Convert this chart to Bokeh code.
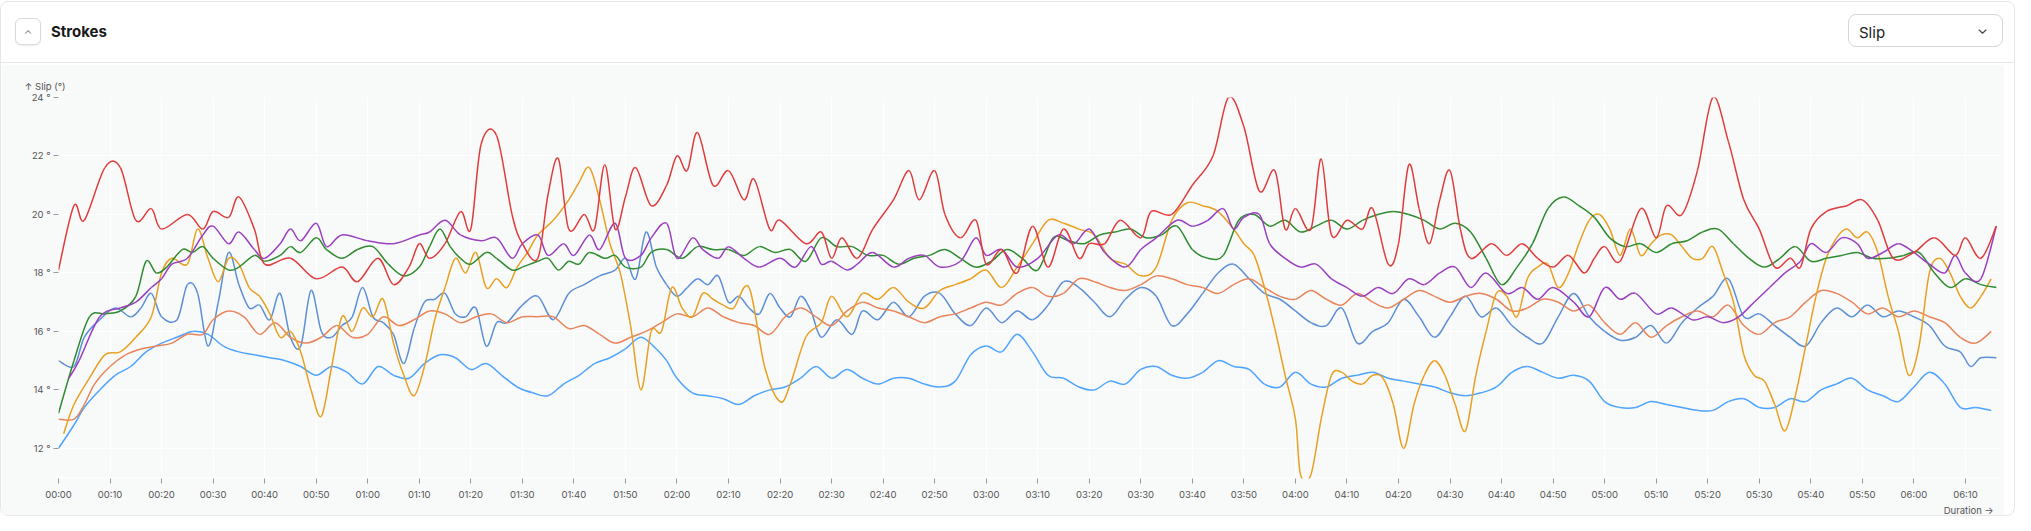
from bokeh.plotting import figure
from bokeh.models import Div, FixedTicker, CustomJSTickFormatter, Title, Range1d
from bokeh.layouts import column
from bokeh.embed import file_html
from bokeh.resources import INLINE

# (seconds, slip in degrees)
red = [(0,18.1),(3,20.3),(5,19.8),(9,21.6),(12,21.6),(15,19.8),(18,20.2),(20,19.5),(25,20),(28,19.5),(30,20.1),(33,19.9),(35,20.6),(38,19.5),(40,18.3),(45,18.5),(50,17.8),(55,18.2),(58,17.7),(62,18.5),(65,17.6),(68,18.2),(70,19),(72,18.5),(75,19),(78,20.1),(80,19.5),(82,22.4),(85,22.7),(88,20),(90,19),(93,18.5),(95,20.7),(97,21.9),(99,19.5),(102,20),(104,19.5),(106,21.7),(108,19.5),(110,20.6),(112,21.6),(115,20.3),(118,21),(120,22),(122,21.5),(124,22.8),(127,21),(130,21.5),(133,20.5),(135,21.2),(138,19.5),(140,19.8),(145,19),(148,19.4),(150,18.5),(152,19.2),(155,18.5),(158,19.5),(162,20.5),(165,21.5),(167,20.5),(170,21.5),(172,20),(175,19.2),(178,19.8),(180,18.3),(183,18.8),(186,18),(189,19.6),(192,18.2),(195,19.5),(198,18.5),(200,19),(203,19),(206,19.8),(210,19.2),(212,20.1),(216,20),(220,21),(224,22),(227,24),(230,23),(233,20.8),(236,21.5),(238,19.5),(240,20.2),(243,19.5),(245,21.9),(247,19.3),(250,19.8),(253,19.5),(255,20.2),(258,18.3),(260,19),(262,21.7),(264,20.2),(266,19),(268,20.5),(270,21.5),(272,19.5),(274,18.5),(278,19),(281,18.6),(284,19),(287,18.5),(290,18.2),(293,18.6),(296,18),(298,18.5),(300,18.9),(303,18.4),(307,20.2),(310,19.2),(312,20.3),(315,20),(318,21.5),(321,24),(324,22.5),(327,20.5),(330,19.5),(333,18.2),(336,18.5),(338,18.2),(340,19.5),(343,20.1),(347,20.3),(350,20.5),(353,19.8),(356,18.5),(360,18.7),(364,19.2),(368,18.6),(370,19.2),(373,18.5),(376,19.6)]
purple = [(2,14.4),(4,15),(8,16.5),(12,16.8),(15,17),(18,17.5),(20,17.8),(22,18.3),(25,18.5),(28,19.3),(30,19.6),(33,19),(35,19.4),(38,18.8),(40,18.5),(43,19),(45,19.5),(47,19.1),(50,19.7),(52,18.9),(55,19.3),(60,19.1),(65,19),(70,19.3),(72,19.4),(75,19.8),(78,19.3),(82,19.1),(85,19.2),(88,18.5),(90,19),(93,19.3),(95,18.6),(98,19),(100,18.6),(103,19.3),(105,18.8),(108,19.7),(110,18.5),(113,18.6),(115,19.2),(118,19.7),(120,18.5),(123,19.2),(125,18.8),(128,18.5),(130,18.9),(133,18.5),(136,18.2),(140,18.5),(143,18.2),(146,18.9),(148,18.3),(150,18.4),(153,18.1),(155,18.3),(158,18.7),(162,18.2),(165,18.5),(168,18.6),(171,18.2),(175,18.4),(178,19.2),(180,18.6),(183,18.8),(186,18.2),(190,18.5),(194,19.3),(197,19),(200,19.5),(203,18.7),(207,18.2),(210,18.8),(213,19.2),(217,19.8),(220,19.6),(223,19.8),(226,20.2),(228,19.5),(230,19.9),(233,20),(235,19),(238,18.5),(241,18.2),(244,18.3),(247,17.8),(250,17.5),(253,17.2),(256,17.5),(259,17.3),(262,17.8),(265,17.6),(268,18),(271,18.2),(274,17.5),(277,18),(281,17.3),(284,17.5),(287,17.1),(290,17.5),(294,17),(297,16.5),(300,17.5),(303,17.1),(306,17.3),(310,16.6),(313,16.8),(317,16.4),(320,16.5),(323,16.3),(326,16.5),(329,17),(332,17.5),(335,18),(338,18.4),(340,19),(343,18.7),(346,19.2),(349,19),(351,18.5),(354,18.7),(357,19),(360,18.7),(363,18.3),(366,18),(368,18.6),(370,18),(373,17.8),(376,19.6)]
green = [(0,13.2),(3,15),(6,16.5),(9,16.6),(12,16.7),(15,17.2),(17,18.4),(19,18),(21,18.2),(24,18.8),(26,18.7),(28,18.9),(30,18.5),(33,18.1),(35,18.2),(38,18.6),(40,18.4),(43,18.6),(45,18.9),(47,18.7),(50,19.2),(52,18.8),(55,18.5),(58,18.8),(61,18.9),(64,18.3),(67,17.9),(70,18.2),(72,18.9),(74,19.5),(76,18.9),(78,18.5),(80,18.3),(83,18.7),(85,18.5),(88,18.1),(90,18.2),(93,18.4),(95,18.5),(97,18.1),(99,18.4),(101,18.3),(103,18.7),(106,18.5),(108,18.6),(110,18.2),(113,18.2),(115,18.7),(118,18.8),(121,18.5),(124,18.9),(127,18.8),(130,18.8),(133,18.6),(136,18.9),(139,18.7),(142,18.8),(145,18.4),(148,19.2),(151,18.9),(154,18.9),(157,18.6),(160,18.6),(163,18.3),(166,18.5),(169,18.6),(172,18.8),(175,18.5),(178,18.2),(181,18.4),(184,18.8),(187,18.5),(190,18.1),(193,19.2),(196,19.1),(199,19),(202,19.3),(205,19.4),(208,19.5),(211,19.2),(214,19.3),(217,19.6),(220,18.8),(223,18.5),(226,18.6),(229,19.8),(232,20),(235,19.6),(238,19.8),(241,19.4),(244,19.6),(247,19.8),(250,19.5),(253,19.8),(256,20),(259,20.1),(262,20),(265,19.8),(268,19.5),(271,19.7),(274,19.4),(277,18.5),(280,17.6),(283,18.2),(286,19),(289,20.2),(292,20.6),(295,20.3),(298,19.9),(301,19.2),(304,18.9),(307,19),(310,18.7),(313,19),(316,19.1),(319,19.4),(322,19.5),(325,19),(328,18.5),(331,18.2),(334,18.5),(337,18.9),(340,18.4),(343,18.5),(346,18.6),(349,18.7),(352,18.5),(355,18.5),(358,18.6),(361,18.7),(364,18),(367,17.5),(370,17.8),(373,17.6),(376,17.5)]
gold = [(1,12.5),(3,13.5),(6,14.4),(9,15.2),(12,15.3),(15,15.8),(18,16.5),(20,18),(22,18.5),(25,18.3),(27,19.5),(29,18.5),(31,17.7),(33,18.5),(35,18.3),(37,17.5),(39,17.2),(41,16.6),(43,15.8),(45,16),(47,15.3),(49,14),(51,13.1),(53,14.8),(55,16.5),(57,16),(59,16.8),(61,16.5),(63,17.1),(65,15.6),(67,14.5),(69,13.8),(71,14.8),(73,16.4),(75,17.5),(77,18.5),(79,18),(81,18.7),(83,17.5),(85,17.8),(87,17.5),(89,18.2),(91,18.7),(93,19.3),(96,19.8),(99,20.5),(101,21.1),(103,21.6),(105,20.5),(107,19),(109,18),(111,16.2),(113,14),(115,16),(117,16),(119,17.5),(121,16.8),(123,16.5),(125,17.3),(127,17.1),(129,16.9),(131,16.8),(134,17.5),(137,14.8),(140,13.6),(142,14.2),(145,15.8),(148,16.3),(150,17.2),(153,16.5),(156,17.3),(159,17.1),(162,17.5),(165,17),(168,16.8),(171,17.4),(174,17.6),(177,17.8),(180,18.1),(183,17.5),(186,18.2),(189,19),(192,19.8),(195,19.7),(198,19.5),(201,19.3),(204,18.5),(207,18.3),(210,17.9),(213,18.2),(216,19.8),(219,20.4),(222,20.3),(225,20.1),(228,19.5),(230,19),(232,18.6),(234,17.5),(236,16.1),(238,14.5),(240,13),(241,11.1),(243,11.1),(245,13),(247,14.5),(249,14.6),(251,14.3),(253,14.2),(255,14.5),(257,14.4),(259,13.5),(261,12),(263,13.5),(265,14.5),(267,15),(269,14.5),(271,13.5),(273,12.6),(275,14.5),(277,16),(279,17.3),(281,17.2),(283,16.5),(285,17.8),(287,18.2),(289,18.3),(291,17.5),(293,18),(295,19),(297,19.8),(299,20),(301,19.5),(303,18.6),(305,19.5),(307,18.6),(309,19),(311,19.3),(313,19.3),(315,18.9),(317,18.5),(319,18.5),(321,18.9),(323,18),(325,17),(327,15.2),(329,14.5),(331,14.3),(333,13.5),(335,12.6),(337,13.8),(339,15.5),(341,17.2),(343,18.5),(345,19.2),(347,19.5),(349,19.2),(351,19.4),(353,18.7),(355,17.2),(357,16),(359,14.5),(361,15.5),(363,18),(365,18.5),(367,18),(369,17.2),(371,16.8),(373,17.2),(375,17.8)]
coral = [(0,13),(3,13),(5,13.5),(7,14.2),(10,14.8),(13,15.2),(16,15.4),(19,15.5),(22,15.6),(25,15.9),(28,15.9),(30,16.4),(33,16.7),(36,16.5),(39,15.9),(42,16.3),(45,15.8),(48,15.6),(51,15.8),(54,16.2),(57,15.8),(60,15.9),(63,16.5),(66,16.2),(69,16.4),(72,16.7),(75,16.6),(78,16.3),(81,16.5),(84,16.6),(87,16.3),(90,16.5),(93,16.5),(96,16.5),(99,16.1),(102,16.2),(105,15.9),(108,15.6),(111,15.8),(114,16),(117,16.3),(120,16.6),(123,16.5),(126,16.8),(129,16.5),(132,16.3),(135,16.2),(138,15.9),(141,16.5),(144,16.8),(147,16.5),(150,16.2),(153,16.7),(156,17),(159,16.8),(162,16.7),(165,16.5),(168,16.3),(171,16.5),(174,16.6),(177,16.8),(180,17),(183,16.9),(186,17.3),(189,17.5),(192,17.2),(195,17.3),(198,17.8),(201,17.7),(204,17.5),(207,17.4),(210,17.6),(213,17.9),(216,17.8),(219,17.6),(222,17.5),(225,17.3),(228,17.6),(231,17.8),(234,17.5),(237,17.2),(240,17.1),(243,17.4),(246,17.1),(249,16.9),(252,17.3),(255,17),(258,16.8),(261,17.1),(264,17.4),(267,17.2),(270,17),(273,17.2),(276,17.3),(279,17.1),(282,16.7),(285,16.8),(288,17.1),(291,17),(294,16.7),(297,16.9),(300,16.3),(303,15.9),(306,16.3),(309,15.8),(312,16.2),(315,16.5),(318,16.7),(321,16.5),(324,16.9),(327,16.2),(330,15.9),(333,16.3),(336,16.5),(339,17),(342,17.4),(345,17.3),(348,17),(351,16.6),(354,16.8),(357,16.5),(360,16.7),(363,16.5),(366,16.3),(369,15.8),(372,15.6),(375,16)]
steel = [(0,15),(3,14.8),(5,15.8),(8,16.4),(11,16.8),(14,16.5),(16,16.8),(18,17.3),(20,16.5),(23,16.4),(25,17.6),(27,17.3),(29,15.5),(31,17),(33,18.7),(35,17.6),(37,16.8),(39,16.9),(41,16.4),(43,17.3),(45,15.8),(47,15.5),(49,17.4),(51,16),(53,15.8),(55,16.2),(57,16.5),(59,17.5),(61,16.5),(63,16.3),(65,15.9),(67,14.9),(69,16.1),(71,17),(73,17.1),(75,17.3),(77,16.6),(79,16.5),(81,16.8),(83,15.5),(85,16.3),(87,16.3),(90,16.9),(93,17.2),(96,16.4),(99,17.3),(102,17.6),(105,17.9),(108,18.1),(110,18.5),(112,17.8),(114,19.4),(116,18.2),(118,17.6),(120,17.2),(122,17.5),(124,17.8),(126,17.6),(128,17.9),(130,17),(132,17.2),(134,16.8),(136,16.6),(138,17.3),(140,16.8),(142,16.5),(144,17.2),(146,16.7),(148,15.8),(151,16.4),(154,15.9),(156,16.7),(159,16.4),(162,17),(165,16.5),(168,17.2),(171,17.3),(174,16.6),(177,16.2),(180,16.8),(183,16.3),(186,16.7),(189,16.4),(192,16.9),(195,17.7),(198,17.5),(201,17),(204,16.5),(207,17.1),(210,17.5),(213,17.2),(216,16.2),(219,16.6),(222,17.3),(225,18),(228,18.3),(231,17.8),(234,17.3),(237,17.1),(240,16.7),(243,16.3),(246,16.2),(249,16.8),(252,15.6),(255,16),(258,16.3),(261,17.1),(264,16.5),(267,15.8),(270,16.5),(273,17.2),(276,16.5),(279,16.8),(282,16.2),(285,15.8),(288,15.6),(291,16.5),(294,17.3),(297,16.5),(300,16),(303,15.7),(306,15.8),(309,16.2),(312,15.6),(315,16.3),(318,16.8),(321,17.2),(324,17.8),(327,16.5),(330,16.6),(333,16.2),(336,15.8),(339,15.5),(342,16.3),(345,16.8),(348,16.5),(351,16.9),(354,16.5),(357,16.7),(360,16.5),(363,16.2),(366,15.5),(369,15.3),(371,14.8),(373,15.1),(376,15.1)]
sky = [(0,12),(3,12.8),(5,13.4),(8,14),(11,14.5),(14,14.8),(17,15.3),(20,15.6),(23,15.8),(26,16),(29,15.9),(32,15.5),(35,15.3),(38,15.2),(41,15.1),(44,15),(47,14.8),(50,14.5),(53,14.8),(56,14.6),(59,14.2),(62,14.8),(65,14.5),(68,14.4),(71,14.9),(74,15.2),(77,15.1),(80,14.7),(83,14.9),(86,14.5),(89,14.1),(92,13.9),(95,13.8),(98,14.2),(101,14.5),(104,14.9),(107,15.1),(110,15.4),(113,15.8),(116,15.4),(118,15),(120,14.4),(123,13.9),(126,13.8),(129,13.7),(132,13.5),(135,13.8),(138,14),(141,14.1),(144,14.4),(147,14.8),(150,14.4),(153,14.7),(156,14.4),(159,14.2),(162,14.4),(165,14.4),(168,14.2),(171,14.1),(174,14.3),(177,15.2),(180,15.5),(183,15.3),(186,15.9),(189,15.3),(192,14.5),(195,14.4),(198,14.1),(201,14),(204,14.3),(207,14.2),(210,14.7),(213,14.8),(216,14.5),(219,14.4),(222,14.6),(225,15),(228,14.8),(231,14.7),(234,14.2),(237,14.1),(240,14.6),(243,14.2),(246,14.1),(249,14.4),(252,14.5),(255,14.6),(258,14.4),(261,14.3),(264,14.2),(267,14.1),(270,13.9),(273,13.8),(276,13.9),(279,14.1),(282,14.6),(285,14.8),(288,14.6),(291,14.4),(294,14.5),(297,14.3),(300,13.6),(303,13.4),(306,13.4),(309,13.6),(312,13.5),(315,13.4),(318,13.3),(321,13.3),(324,13.6),(327,13.7),(330,13.4),(333,13.4),(336,13.7),(339,13.6),(342,14),(345,14.2),(348,14.4),(351,14),(354,13.8),(357,13.6),(360,14.1),(363,14.6),(366,14.2),(369,13.4),(372,13.4),(375,13.3)]

series = [(sky, "#4da3ff"), (steel, "#5b8fd6"), (coral, "#e8845a"), (gold, "#e8a020"),
          (green, "#2e8b2e"), (purple, "#9a3fc0"), (red, "#e03c3c")]
y_ticks = [12, 14, 16, 18, 20, 22, 24]
x_ticks = list(range(0, 371, 10))

FONT = "Inter"
W = 2015

header = Div(width=W, height=62, text="""
<div style="position:relative;width:2013px;height:61px;font-family:Inter,sans-serif;border-bottom:1px solid #e4e6e8;">
 <div style="position:absolute;left:14px;top:16px;width:26px;height:27px;border:1px solid #d8dadd;border-radius:6px;box-shadow:0 1px 2px rgba(0,0,0,.08);text-align:center;line-height:30px;color:#888;font-size:11px;">&#8963;</div>
 <div style="position:absolute;left:50px;top:19px;font-size:15px;font-weight:700;color:#1a1a1a;">Strokes</div>
 <div style="position:absolute;left:1847px;top:12px;width:155px;height:33px;border:1px solid #d4d6da;border-radius:8px;">
   <span style="position:absolute;left:10px;top:7px;font-size:15px;color:#222;">Slip</span>
   <span style="position:absolute;right:14px;top:4px;font-size:14px;color:#333;">&#8964;</span>
 </div>
</div>""", styles={"margin": "0"})

p = figure(width=2003, height=451, output_backend="svg", toolbar_location=None,
           x_range=Range1d(0, 377), y_range=Range1d(10.97, 24),
           min_border_left=57, min_border_right=3, min_border_top=33, min_border_bottom=36,
           background_fill_color="#f8f9f9", border_fill_color="#f8f9f9", outline_line_color=None)

def smooth_segments(data, k=1/6):
    xs = [d[0] for d in data]; ys = [d[1] for d in data]
    n = len(xs)
    seg = dict(x0=[], y0=[], x1=[], y1=[], cx0=[], cy0=[], cx1=[], cy1=[])
    for i in range(n - 1):
        a = max(i - 1, 0); b = min(i + 2, n - 1)
        seg["x0"].append(xs[i]); seg["y0"].append(ys[i])
        seg["x1"].append(xs[i+1]); seg["y1"].append(ys[i+1])
        seg["cx0"].append(xs[i] + (xs[i+1] - xs[a]) * k)
        seg["cy0"].append(ys[i] + (ys[i+1] - ys[a]) * k)
        seg["cx1"].append(xs[i+1] - (xs[b] - xs[i]) * k)
        seg["cy1"].append(ys[i+1] - (ys[b] - ys[i]) * k)
    return seg

for data, col in series:
    s = smooth_segments(data)
    p.bezier(line_color=col, line_width=1.5, **s)

p.xaxis.ticker = FixedTicker(ticks=x_ticks)
p.xaxis.formatter = CustomJSTickFormatter(code="""
const m = Math.floor(tick/60), s = Math.round(tick%60);
return String(m).padStart(2,'0') + ':' + String(s).padStart(2,'0');""")
p.yaxis.ticker = FixedTicker(ticks=y_ticks)
p.yaxis.formatter = CustomJSTickFormatter(code="return tick + ' °';")
for ax in (p.xaxis[0], p.yaxis[0]):
    ax.axis_line_color = None
    ax.major_tick_line_color = "#999"
    ax.major_tick_in = 0
    ax.major_tick_out = 5
    ax.minor_tick_line_color = None
    ax.major_label_text_font = FONT
    ax.major_label_text_font_size = "9.5px"
    ax.major_label_text_color = "#555"
p.yaxis.major_label_standoff = 3
p.xaxis.major_label_standoff = 5
p.xgrid.ticker = FixedTicker(ticks=x_ticks)
p.ygrid.ticker = FixedTicker(ticks=y_ticks + [11])
p.grid.grid_line_color = "#ffffff"
p.grid.grid_line_width = 1

p.title = Title(text="↑ Slip (°)", align="left", offset=-34, text_font=FONT,
                text_font_size="9.5px", text_color="#555", text_font_style="normal", standoff=12)
p.add_layout(Title(text="Duration →", align="right", offset=8, standoff=0, text_font=FONT,
                   text_font_size="9.5px", text_color="#555", text_font_style="normal"), "below")

page = column(header, p, width=W, height=515,
              styles={"background": "#ffffff", "border": "1px solid #e4e6e8", "border-radius": "8px",
                      "margin-top": "1px"})

open("out.html", "w").write(file_html(page, INLINE))
